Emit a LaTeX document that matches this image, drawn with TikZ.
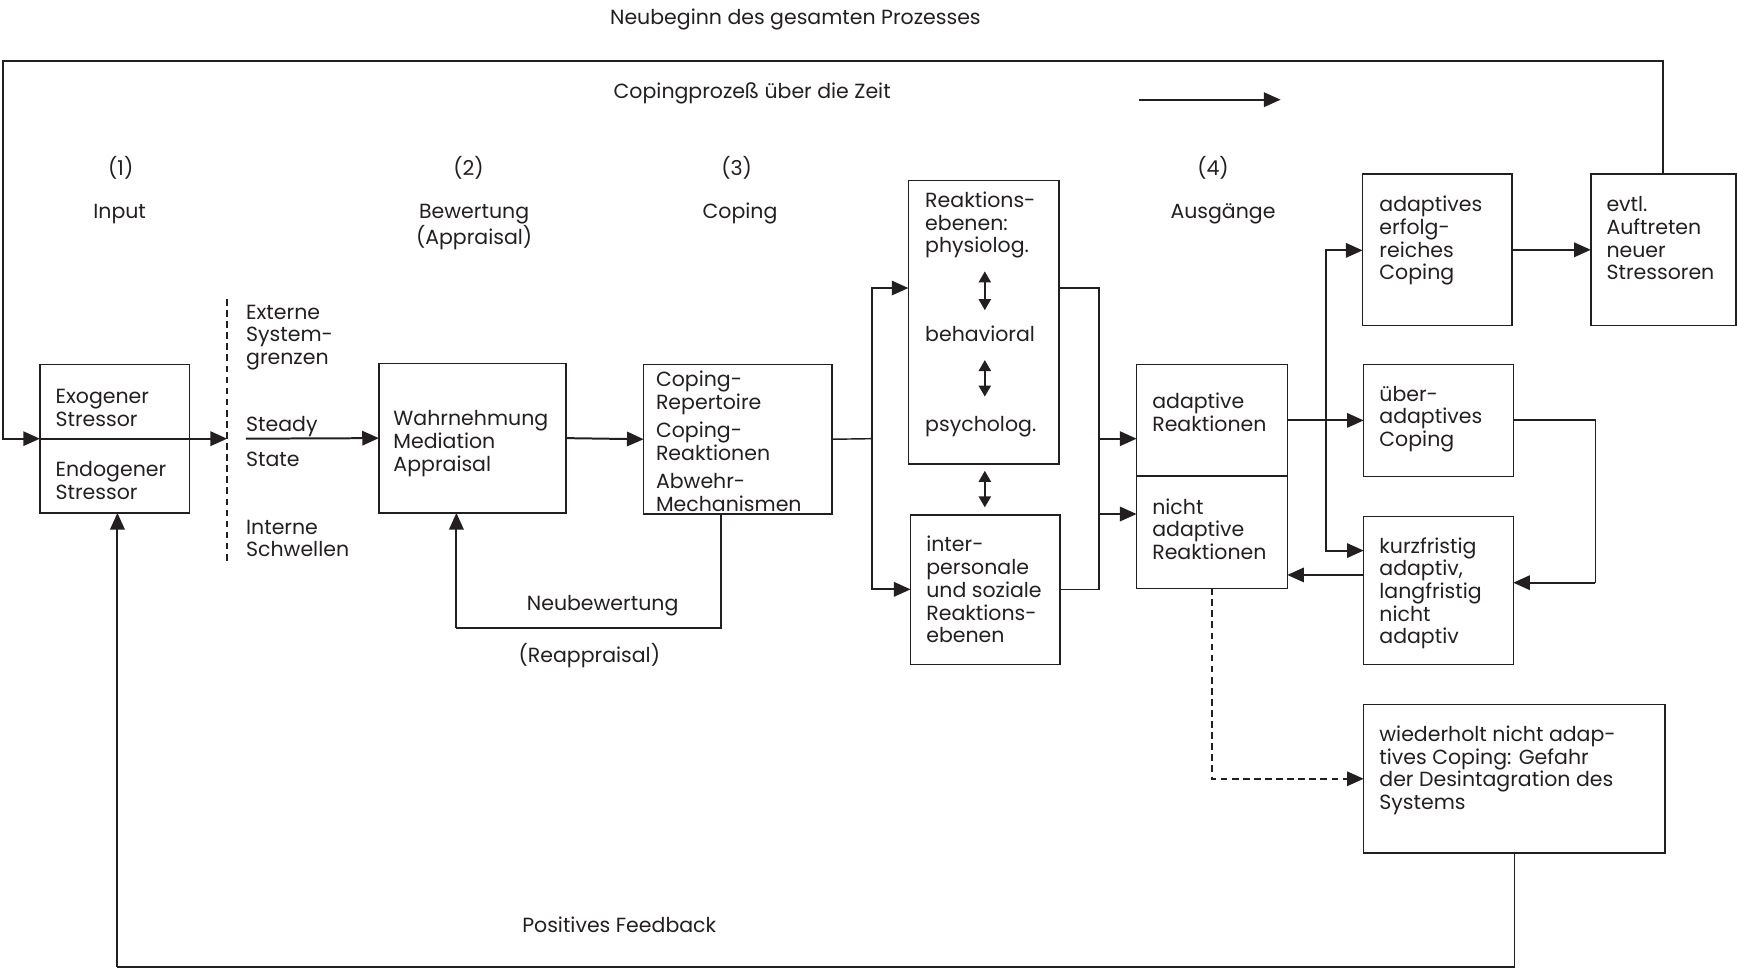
\documentclass[tikz,border=0pt]{standalone}
\usepackage{fontspec}
\setmainfont{Poppins}
\usetikzlibrary{arrows.meta}
\definecolor{ink}{HTML}{231F20}
\newcommand\fst{\rule{0pt}{16pt}}
\tikzset{
  box/.style={draw=ink, line width=1.3pt, inner sep=0pt, outer sep=0pt, rectangle},
  txt/.style={anchor=north west, align=left, inner sep=0pt, text=ink, font=\fontsize{18.5}{20.5}\selectfont},
  ctxt/.style={anchor=base, inner sep=0pt, text=ink, font=\fontsize{18.5}{20.5}\selectfont},
  ln/.style={draw=ink, line width=1.3pt},
  arr/.style={draw=ink, line width=1.8pt, -{Triangle[length=15pt,width=13pt]}},
  darr/.style={draw=ink, line width=1.8pt, {Triangle[length=10pt,width=11pt]}-{Triangle[length=10pt,width=11pt]}},
}
\begin{document}
\begin{tikzpicture}[x=1pt,y=-1pt]
\useasboundingbox (0,0) rectangle (1568,875);
% header texts
\node[ctxt] (neub) at (718,22) {Neubeginn des gesamten Prozesses};
\node[ctxt] (cpz) at (679,89) {Copingprozeß über die Zeit};
\coordinate (ta1) at (1028,90); \coordinate (ta2) at (1156,90);
\draw[arr] (ta1) -- (ta2);
\node[ctxt] (n1) at (109,158) {(1)};
\node[ctxt] (inp) at (108,197) {Input};
\node[ctxt] (n2) at (423,158) {(2)};
\node[ctxt,align=center,anchor=north] (bew) at (428,181) {\fst Bewertung\\(Appraisal)};
\node[ctxt] (n3) at (665,158) {(3)};
\node[ctxt] (cop3) at (668,197) {Coping};
\node[ctxt] (n4) at (1095,158) {(4)};
\node[ctxt] (ausg) at (1104,197) {Ausgänge};
% boxes
\node[box, minimum width=135, minimum height=134] (exo) at (103.5,396) {};
\node[box, minimum width=169, minimum height=135] (wahr) at (426.5,395.5) {};
\node[box, minimum width=170, minimum height=135] (cop) at (666,396.5) {};
\node[box, minimum width=136, minimum height=256] (reak) at (888,291) {};
\node[box, minimum width=135, minimum height=135] (inter) at (889.5,532.5) {};
\node[box, minimum width=136, minimum height=101] (adap) at (1094,379.5) {};
\node[box, minimum width=136, minimum height=101] (nicht) at (1094,480.5) {};
\node[box, minimum width=135, minimum height=137] (adcop) at (1297.5,225.5) {};
\node[box, minimum width=131, minimum height=137] (evtl) at (1501.5,225.5) {};
\node[box, minimum width=135, minimum height=101] (ueber) at (1298.5,379.5) {};
\node[box, minimum width=135, minimum height=134] (kurz) at (1298.5,533) {};
\node[box, minimum width=272, minimum height=134] (wied) at (1367,703) {};
\draw[ln, line width=2pt] (adap.south west) -- (adap.south east);
% box texts
\node[txt] (exot) at (50,348) {\fst Exogener\\Stressor};
\node[txt] (endot) at (50,414) {\fst Endogener\\Stressor};
\node[txt] (extt) at (222,272) {\fst Externe\\System-\\grenzen};
\node[txt] (stdy) at (222,373) {\fst Steady};
\node[txt] (stat) at (222,405) {\fst State};
\node[txt] (intt) at (222,466) {\fst Interne\\Schwellen};
\node[txt] (wahrt) at (355,368) {\fst Wahrnehmung\\Mediation\\Appraisal};
\node[txt] (copt) at (592,333) {\fst Coping-\\Repertoire\\[5pt]Coping-\\Reaktionen\\[5pt]Abwehr-\\Mechanismen};
\node[txt] (reakt) at (835,171) {\fst Reaktions-\\ebenen:\\physiolog.};
\node[txt] (beht) at (835,292) {\fst behavioral};
\node[txt] (psyt) at (835,373) {\fst psycholog.};
\node[txt] (intert) at (836,482) {\fst inter-\\personale\\und soziale\\Reaktions-\\ebenen};
\node[txt] (adapt) at (1040,353) {\fst adaptive\\Reaktionen};
\node[txt] (nichtt) at (1040,448) {\fst nicht\\adaptive\\Reaktionen};
\node[txt] (adcopt) at (1245,175) {\fst adaptives\\erfolg-\\reiches\\Coping};
\node[txt] (evtlt) at (1450,175) {\fst evtl.\\Auftreten\\neuer\\Stressoren};
\node[txt] (uebert) at (1245,346) {\fst über-\\adaptives\\Coping};
\node[txt] (kurzt) at (1245,483) {\fst kurzfristig\\adaptiv,\\langfristig\\nicht\\adaptiv};
\node[txt] (wiedt) at (1245,653) {\fst wiederholt nicht adap-\\tives Coping: Gefahr\\der Desintagration des\\Systems};
\node[ctxt] (nbt) at (544,551) {Neubewertung};
\node[ctxt] (reapt) at (532,598) {(Reappraisal)};
\node[ctxt] (pft) at (559,842) {Positives Feedback};
% outer loop
\coordinate (tlc) at (3,55);
\draw[arr] (evtl.north) |- (tlc) |- (exo.west);
\coordinate (sysb) at (205,396);
\draw[arr] (exo.west) -- (sysb);
\coordinate (dtop) at (205,270); \coordinate (dbot) at (205,507);
\draw[ln, dashed, dash pattern=on 6pt off 4pt] (dtop) -- (dbot);
\coordinate (ss) at (222,396);
\draw[arr] (ss) -- (wahr.west);
\draw[arr] (wahr.east) -- (cop.west);
% reappraisal loop
\coordinate (nbr) at (651,567); \coordinate (nbl) at (412,567);
\draw[ln] (cop.south -| nbr) -- (nbr) -- (nbl);
\draw[arr] (nbl) -- (wahr.south -| nbl);
% split
\coordinate (sp) at (787,396); \coordinate (spT) at (787,260); \coordinate (spB) at (787,532);
\draw[ln] (cop.east) -- (sp);
\draw[arr] (sp) -- (spT) -- (reak.west |- spT);
\draw[arr] (sp) -- (spB) -- (inter.west |- spB);
% double arrows
\coordinate (d1a) at (889,245); \coordinate (d1b) at (889,280);
\coordinate (d2a) at (889,325); \coordinate (d2b) at (889,358);
\draw[darr] (d1a) -- (d1b);
\draw[darr] (d2a) -- (d2b);
\draw[darr] ([yshift=-6pt]reak.south -| d1a) -- ([yshift=7pt]inter.north -| d1a);
% merge
\coordinate (mT) at (992,260); \coordinate (mB) at (992,532);
\draw[ln] (reak.east |- mT) -- (mT) -- (mB) -- (inter.east |- mB);
\coordinate (m1) at (992,396); \coordinate (m2) at (992,464);
\draw[arr] (m1) -- (adap.west |- m1);
\draw[arr] (m2) -- (nicht.west |- m2);
% outputs
\draw[arr] (adap.east) -- (ueber.west);
\coordinate (vT) at (1197,226); \coordinate (vB) at (1197,497);
\coordinate (vM) at (1197,379.5);
\draw[arr] (vM) -- (vT) -- (adcop.west |- vT);
\draw[arr] (vM) -- (vB) -- (kurz.west |- vB);
\draw[arr] (adcop.east) -- (evtl.west);
\coordinate (uR) at (1440,379); \coordinate (uR2) at (1440,526);
\draw[ln] (ueber.east |- uR) -- (uR) -- (uR2);
\draw[arr] (uR2) -- (kurz.east |- uR2);
\coordinate (kn) at (1231,519);
\draw[arr] (kurz.west |- kn) -- (nicht.east |- kn);
\draw[arr, dashed, dash pattern=on 6pt off 4pt, line width=1.5pt] (nicht.south) |- (wied.west);
\coordinate (pfL) at (106,873);
\draw[ln] (wied.south) |- (pfL);
\draw[arr] (pfL) -- (exo.south -| pfL);
\end{tikzpicture}
\end{document}
